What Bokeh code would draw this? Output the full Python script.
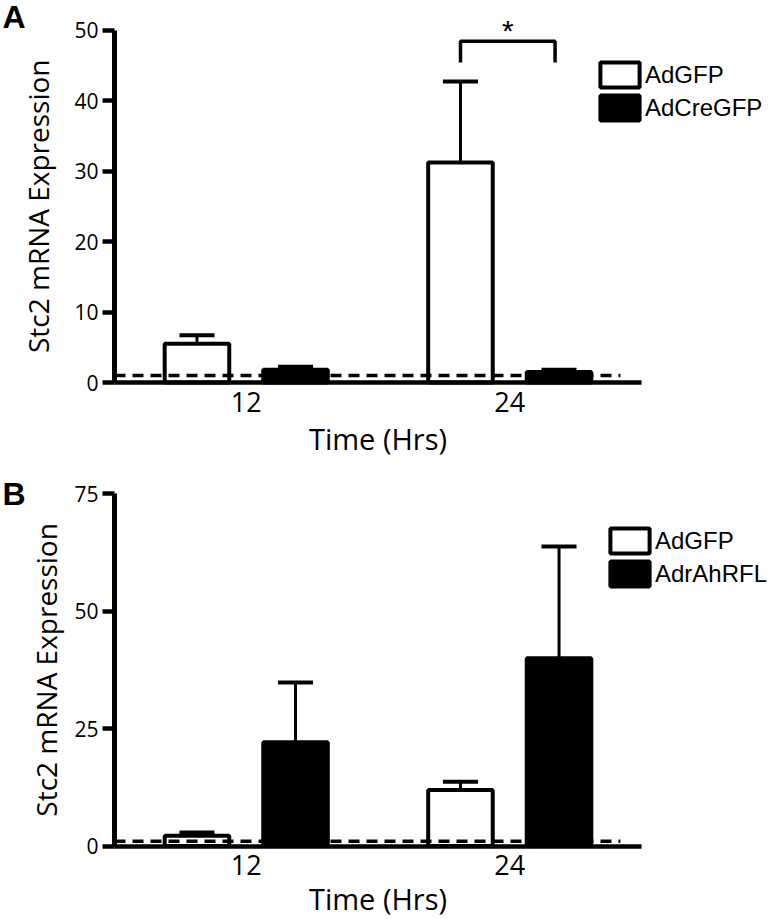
import numpy as np
from bokeh.plotting import figure
from bokeh.models import (Range1d, FixedTicker, Whisker, ColumnDataSource, Legend,
                          LegendItem, TeeHead)
from bokeh.layouts import column
from bokeh.embed import file_html
from bokeh.resources import INLINE
from bokeh.core.properties import value

# ---------------- data ----------------
times = ["12", "24"]
x_title = "Time (Hrs)"
y_title = "Stc2 mRNA Expression"
baseline = 1.0

a_names = ["AdGFP", "AdCreGFP"]
a_ctrl = [5.5, 31.2]
a_ctrl_err = [1.2, 11.5]
a_trt = [1.8, 1.5]
a_trt_err = [0.45, 0.3]
a_ticks = [0, 10, 20, 30, 40, 50]
a_sig_time = "24"
a_sig_label = "*"
a_sig_top = 48.4
a_sig_leg = 45.4

b_names = ["AdGFP", "AdrAhRFL"]
b_ctrl = [2.2, 11.9]
b_ctrl_err = [0.7, 1.8]
b_trt = [22.1, 40.0]
b_trt_err = [12.7, 23.8]
b_ticks = [0, 25, 50, 75]

# ---------------- style / layout ----------------
AXIS_FONT = "Open Sans"
LEG_FONT = "Liberation Sans"
W = 771
AXIS_X = 114        # canvas column of the y axis
X_PX = 263.5        # pixels per category step
OFF = 0.187
BAR_W = 0.245
DASH_END = 1.42


def panel(letter, names, ctrl, ctrl_err, trt, trt_err, ticks, height, y0_px, px_per_unit,
          leg_xy, ylab_px, xlab_px, letter_xy, sig=None):
    n = len(times)
    idx = np.arange(n)

    def xd(px):
        return -0.5 + (px - AXIS_X) / X_PX

    def yd(py):
        return (y0_px - py) / px_per_unit

    p = figure(width=W, height=height, output_backend="svg", toolbar_location=None,
               x_range=Range1d(xd(0), xd(W)), y_range=Range1d(yd(height), yd(0)),
               min_border_left=0, min_border_right=0, min_border_top=0,
               min_border_bottom=0)
    p.outline_line_color = None
    p.grid.visible = False
    p.background_fill_color = "white"
    p.border_fill_color = "white"

    src_c = ColumnDataSource(dict(x=idx - OFF, top=ctrl,
                                  upper=np.array(ctrl) + np.array(ctrl_err)))
    src_t = ColumnDataSource(dict(x=idx + OFF, top=trt,
                                  upper=np.array(trt) + np.array(trt_err)))

    for src in (src_c, src_t):
        p.add_layout(Whisker(source=src, base="x", lower="top", upper="upper",
                             dimension="height", line_width=3, line_color="black",
                             upper_head=TeeHead(size=35, line_width=4, line_color="black"),
                             lower_head=None))

    r_c = p.vbar(x="x", top="top", bottom=0, width=BAR_W, source=src_c,
                 fill_color="white", line_color="black", line_width=4)
    r_t = p.vbar(x="x", top="top", bottom=0, width=BAR_W, source=src_t,
                 fill_color="black", line_color="black", line_width=4)

    p.line(x=[-0.5, DASH_END], y=[baseline, baseline], line_color="black",
           line_width=3.5, line_dash="11 7")

    if sig is not None:
        t, lab, top, leg = sig
        i = times.index(t)
        xl, xr = i - OFF, i + OFF - 0.015
        p.line(x=[xl, xl, xr, xr], y=[leg, top, top, leg], line_color="black",
               line_width=3.5)
        p.text(x=[(xl + xr) / 2], y=[top + 1.5], text=[lab], text_align="center",
               text_baseline="middle", text_font=value(LEG_FONT),
               text_font_size="30px", text_color="black")

    # axes (drawn at fixed data locations, limited to the data extent)
    ya = p.yaxis[0]
    ya.fixed_location = -0.5
    ya.ticker = FixedTicker(ticks=ticks)
    ya.bounds = (0, max(ticks))
    ya.axis_line_width = 5
    ya.major_tick_line_width = 4.5
    ya.major_tick_out = 12
    ya.major_tick_in = 0
    ya.minor_tick_line_color = None
    ya.major_label_standoff = 4
    ya.major_label_text_font = AXIS_FONT
    ya.major_label_text_font_size = "21px"
    ya.major_label_text_color = "black"

    xa = p.xaxis[0]
    xa.fixed_location = 0
    xa.ticker = FixedTicker(ticks=list(range(n)))
    xa.major_label_overrides = {i: t for i, t in enumerate(times)}
    xa.bounds = (-0.5, n - 0.5)
    xa.axis_line_width = 4.5
    xa.major_tick_line_color = None
    xa.major_tick_out = 0
    xa.major_tick_in = 0
    xa.minor_tick_line_color = None
    xa.major_label_standoff = 9
    xa.major_label_text_font = AXIS_FONT
    xa.major_label_text_font_size = "27px"
    xa.major_label_text_color = "black"

    # axis titles
    p.text(x=[xd(ylab_px)], y=[max(ticks) / 2], text=[y_title], angle=np.pi / 2,
           text_align="center", text_baseline="middle", text_font=value(AXIS_FONT),
           text_font_size="28px", text_color="black")
    p.text(x=[(n - 1) / 2], y=[yd(xlab_px)], text=[x_title], text_align="center",
           text_baseline="middle", text_font=value(AXIS_FONT),
           text_font_size="29px", text_color="black")

    # panel letter
    p.text(x=[xd(letter_xy[0])], y=[yd(letter_xy[1])], text=[letter], text_align="left",
           text_baseline="middle", text_font=value(LEG_FONT), text_font_size="32px",
           text_font_style="bold", text_color="black")

    # legend (area glyphs are drawn inset by 10% of the glyph box)
    gw, gh, sp = 49, 31, 2
    leg_h = 2 * gh + sp
    legend = Legend(items=[LegendItem(label=names[0], renderers=[r_c]),
                           LegendItem(label=names[1], renderers=[r_t])],
                    location=(leg_xy[0], height - leg_xy[1] - leg_h),
                    glyph_width=gw, glyph_height=gh, spacing=sp, padding=0, margin=0,
                    border_line_color=None, background_fill_alpha=0,
                    label_text_font=LEG_FONT, label_text_font_size="24px",
                    label_text_color="black", label_standoff=1, label_height=gh)
    p.add_layout(legend)
    return p


pa = panel("A", a_names, a_ctrl, a_ctrl_err, a_trt, a_trt_err, a_ticks,
           height=458, y0_px=382, px_per_unit=7.05, leg_xy=(595, 59),
           ylab_px=37, xlab_px=438, letter_xy=(2, 16),
           sig=(a_sig_time, a_sig_label, a_sig_top, a_sig_leg))
pb = panel("B", b_names, b_ctrl, b_ctrl_err, b_trt, b_trt_err, b_ticks,
           height=461, y0_px=845.5 - 458, px_per_unit=4.696, leg_xy=(605, 525 - 458),
           ylab_px=45, xlab_px=898 - 458, letter_xy=(2, 493 - 458))

layout = column(pa, pb, spacing=0)
open("out.html", "w").write(file_html(layout, INLINE))
